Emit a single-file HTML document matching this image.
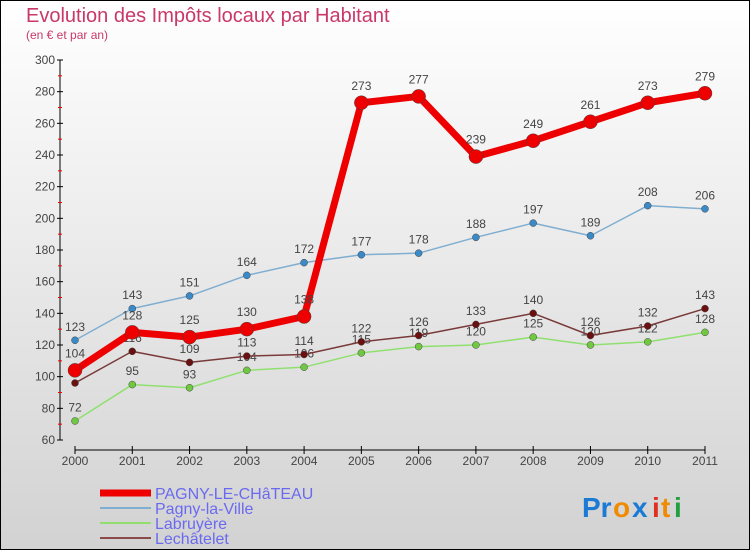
<!DOCTYPE html>
<html><head><meta charset="utf-8"><style>
body{margin:0;width:750px;height:550px;overflow:hidden;font-family:"Liberation Sans",sans-serif}
</style></head><body>
<svg id="chart" width="750" height="550" xmlns="http://www.w3.org/2000/svg">
<defs><linearGradient id="bg" x1="0" y1="0" x2="0" y2="1"><stop offset="0" stop-color="#ffffff"/><stop offset="1" stop-color="#d2d2d2"/></linearGradient></defs>
<rect x="0.5" y="0.5" width="749" height="549" fill="url(#bg)" stroke="#000"/>
<text x="26" y="22" font-size="20" fill="#c8386a">Evolution des Impôts locaux par Habitant</text>
<text x="26" y="39" font-size="12" fill="#c8386a">(en € et par an)</text>
<g id="axes"></g><g id="series"></g><g id="legend"></g>
<g font-size="28" font-weight="bold">
<text x="582" y="517" fill="#1a7ad4">Pr</text><text x="613" y="517" fill="#f08a00">o</text><text x="632" y="517" fill="#1a7ad4">x</text><text x="652" y="517" fill="#e03020">i</text><text x="661" y="517" fill="#f08a00">t</text><text x="674" y="517" fill="#22a040">i</text>
</g>
</svg>
<script>
const years=["2000","2001","2002","2003","2004","2005","2006","2007","2008","2009","2010","2011"];
const yTicks=[60,80,100,120,140,160,180,200,220,240,260,280,300];
const pagnyChateau=[104,128,125,130,138,273,277,239,249,261,273,279];
const pagnyVille=[123,143,151,164,172,177,178,188,197,189,208,206];
const labruyere=[72,95,93,104,106,115,119,120,125,120,122,128];
const lechatelet=[96,116,109,113,114,122,126,133,140,126,132,143];
const NS="http://www.w3.org/2000/svg";
const X=i=>75+i*(630/11);
const Y=v=>440-(v-60)*(380/240);
function mk(t,a,p){const e=document.createElementNS(NS,t);for(const k in a)e.setAttribute(k,a[k]);p.appendChild(e);return e;}
const ax=document.getElementById('axes');
let l=mk('line',{x1:60,y1:60,x2:60,y2:440,stroke:'#000'},ax);

l=mk('line',{x1:75,y1:450,x2:705,y2:450,stroke:'#000'},ax);

yTicks.forEach((v,i)=>{
 mk('line',{x1:57,x2:63,y1:Y(v),y2:Y(v),stroke:'#000'},ax);
 if(i<yTicks.length-1)mk('line',{x1:58,x2:62,y1:Y(v+10),y2:Y(v+10),stroke:'#e00'},ax);
 const t=mk('text',{x:55,y:Y(v)+4,'text-anchor':'end','font-size':12,fill:'#444'},ax);t.textContent=v;
 
});
years.forEach((y,i)=>{
 mk('line',{x1:X(i),x2:X(i),y1:446,y2:454,stroke:'#000'},ax);
 const t=mk('text',{x:X(i),y:465,'text-anchor':'middle','font-size':12,fill:'#444'},ax);t.textContent=y;
 
});
const sg=document.getElementById('series');
const defs=[[labruyere,'#90e070','#70c840',1.5,3.5,'labruyere'],[lechatelet,'#7a3a3a','#6a1010',1.5,3.5,'lechatelet'],[pagnyVille,'#80aed0','#3a8ac8',1.5,3.5,'pagny-la-ville'],[pagnyChateau,'#ee0000','#ee0000',7,7,'pagny-le-chateau']];
defs.forEach(([d,lc,pc,w,r,n])=>{
 const g=mk('g',{},sg);
 const p=mk('polyline',{points:d.map((v,i)=>X(i)+','+Y(v)).join(' '),fill:'none',stroke:lc,'stroke-width':w,'stroke-linejoin':'round'},g);
 
 d.forEach((v,i)=>{
  const c=mk('circle',{cx:X(i),cy:Y(v),r:r,fill:pc,stroke:'#444','stroke-width':0.5},g);
  
  const t=mk('text',{x:X(i),y:Y(v)-(r+6),'text-anchor':'middle','font-size':12,fill:'#444'},g);t.textContent=v;
  
 });
});
const lg=document.getElementById('legend');
const leg=[['PAGNY-LE-CHâTEAU','#ee0000',7],['Pagny-la-Ville','#80aed0',2],['Labruyère','#90e070',2],['Lechâtelet','#8a4a4a',2]];
leg.forEach(([n,c,w],i)=>{
 const g=mk('g',{},lg);
 const y=493+i*15;
 mk('line',{x1:100,x2:151,y1:y,y2:y,stroke:c,'stroke-width':w},g);
 const t=mk('text',{x:155,y:y+6,'font-size':16,fill:'#6a6af0'},g);t.textContent=n;
});
</script>
</body></html>
